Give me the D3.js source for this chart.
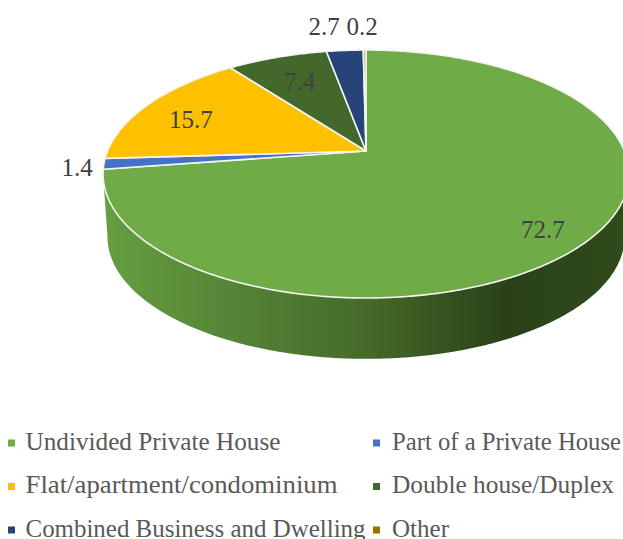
<!DOCTYPE html>
<html><head><meta charset="utf-8">
<script src="https://cdn.jsdelivr.net/npm/d3@7"></script>
<style>html,body{margin:0;padding:0;background:#fff;overflow:hidden}svg{display:block}
text{font-family:"Liberation Serif",serif}</style></head>
<body><svg id="c" width="623" height="539"></svg>
<script>
const categories = ["Undivided Private House","Part of a Private House","Flat/apartment/condominium","Double house/Duplex","Combined Business and Dwelling","Other"];
const values = [72.7,1.4,15.7,7.4,2.7,0.2];
const colors = ["#6FAB47","#4472C4","#FFC000","#43682B","#264478","#C9B27A"];
const legendColors = ["#70AD47","#4472C4","#FFC000","#43682B","#264478","#997300"];
const legendWidths = [255,229,312,222,340,57];
const labelAngles = [133.9,262.8,291.5,336.1,351.1,359.2];
const labelRadii = [0.847,1.098,0.766,0.706,1.298,1.295];

const svg = d3.select("#c");
const cx=366, apexY=151, R=258.4, k=0.1855, A=91.7;
const ellCy=174, s=0.983, drop=63;
function project(theta,r=1){
  const u=r*Math.sin(theta), v=-r*Math.cos(theta), d=1-k*v;
  return [cx+R*u/d,(A*v+apexY)/d];
}
const lower=p=>[cx+(p[0]-cx)*s, ellCy+(p[1]-ellCy)*s+drop];
const line=d3.line();
const sweep=(a,b)=>{const n=Math.max(2,Math.ceil((b-a)*120));return d3.range(n+1).map(i=>a+(b-a)*i/n);};

const defs=svg.append("defs");
const g=defs.append("linearGradient").attr("id","side").attr("gradientUnits","userSpaceOnUse")
  .attr("x1",103).attr("x2",623).attr("y1",0).attr("y2",0);
[[0,"#669E40"],[0.25,"#558436"],[0.5,"#456B2A"],[0.68,"#344F1E"],[0.78,"#2A4118"],[1,"#2F4A1B"]]
  .forEach(([o,c])=>g.append("stop").attr("offset",o).attr("stop-color",c));

const t0=Math.acos(-k), t1=2*Math.PI-t0;
const frontTop=sweep(t0,t1).map(t=>project(t));
svg.append("path").attr("d",line(frontTop.concat(frontTop.map(lower).reverse()))+"Z").attr("fill","url(#side)");

const arcs=d3.pie().sort(null).value(d=>d)(values);
svg.append("g").selectAll("path").data(arcs).join("path")
  .attr("d",d=>line([project(0,0)].concat(sweep(d.startAngle,d.endAngle).map(t=>project(t))))+"Z")
  .attr("fill",(d,i)=>colors[i]).attr("stroke","#f4f4f0").attr("stroke-width",1.6).attr("stroke-linejoin","round");

svg.append("g").selectAll("text").data(values).join("text")
  .attr("x",(d,i)=>project(labelAngles[i]*Math.PI/180,labelRadii[i])[0])
  .attr("y",(d,i)=>project(labelAngles[i]*Math.PI/180,labelRadii[i])[1])
  .attr("text-anchor","middle").attr("dominant-baseline","central")
  .attr("font-size",25).attr("fill","#404040").text(d=>d);

const colX=d3.scalePoint().domain([0,1]).range([8,373]);
const rowY=d3.scalePoint().domain([0,1,2]).range([443,530]);
const lg=svg.append("g").selectAll("g").data(categories).join("g")
  .attr("transform",(d,i)=>`translate(${colX(i%2)},${rowY(Math.floor(i/2))})`);
lg.append("rect").attr("x",0).attr("y",-3.5).attr("width",7).attr("height",7).attr("fill",(d,i)=>legendColors[i]);
lg.append("text").attr("x",(d,i)=>i%2?19:17.5).attr("y",6.5).attr("font-size",24.5)
  .attr("textLength",(d,i)=>legendWidths[i]).attr("lengthAdjust","spacingAndGlyphs")
  .attr("fill","#595959").text(d=>d);
</script></body></html>
